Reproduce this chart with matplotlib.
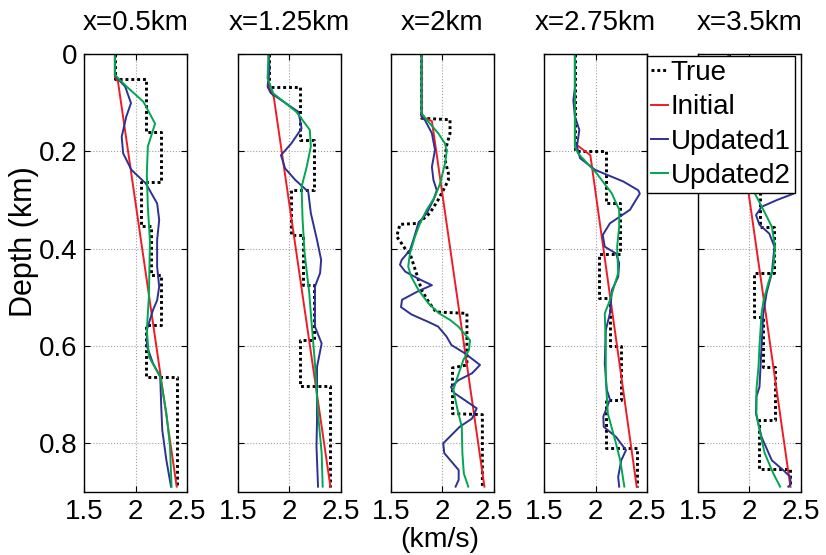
import numpy as np
import matplotlib
matplotlib.use('Agg')
import matplotlib.pyplot as plt

plt.rcParams['font.family'] = ['Liberation Sans', 'DejaVu Sans']

titles = ['x=0.5km', 'x=1.25km', 'x=2km', 'x=2.75km', 'x=3.5km']

# true model, given as (depth km, velocity km/s) vertices
true_z = [
    [0, 0.052, 0.052, 0.16, 0.16, 0.262, 0.262, 0.354, 0.354, 0.455, 0.455, 0.557, 0.557, 0.663, 0.663, 0.889],
    [0, 0.067, 0.067, 0.177, 0.177, 0.28, 0.28, 0.372, 0.372, 0.475, 0.475, 0.588, 0.588, 0.682, 0.682, 0.889],
    [0, 0.132, 0.135, 0.163, 0.19, 0.218, 0.245, 0.259, 0.273, 0.30, 0.327, 0.348, 0.350, 0.375, 0.389, 0.40,
     0.41, 0.451, 0.485, 0.51, 0.53, 0.533, 0.639, 0.645, 0.739, 0.741, 0.889],
    [0, 0.2, 0.2, 0.307, 0.307, 0.41, 0.41, 0.502, 0.502, 0.60, 0.60, 0.711, 0.711, 0.81, 0.81, 0.889],
    [0, 0.2, 0.2, 0.355, 0.355, 0.45, 0.45, 0.54, 0.54, 0.643, 0.643, 0.752, 0.752, 0.852, 0.852, 0.889],
]
true_v = [
    [1.8, 1.8, 2.10, 2.10, 2.25, 2.25, 2.05, 2.05, 2.15, 2.15, 2.25, 2.25, 2.10, 2.10, 2.40, 2.40],
    [1.8, 1.8, 2.10, 2.10, 2.24, 2.24, 2.02, 2.02, 2.13, 2.13, 2.24, 2.24, 2.10, 2.10, 2.40, 2.40],
    [1.8, 1.8, 2.076, 2.076, 2.04, 2.027, 2.06, 2.06, 2.027, 1.96, 1.88, 1.768, 1.59, 1.558, 1.605, 1.64,
     1.687, 1.75, 1.80, 1.87, 1.94, 2.24, 2.24, 2.10, 2.10, 2.39, 2.39],
    [1.8, 1.8, 2.10, 2.10, 2.24, 2.24, 2.03, 2.03, 2.14, 2.14, 2.245, 2.245, 2.10, 2.10, 2.40, 2.40],
    [1.8, 1.8, 2.10, 2.10, 2.245, 2.245, 2.047, 2.047, 2.137, 2.137, 2.25, 2.25, 2.095, 2.095, 2.40, 2.40],
]

# initial model
init_z = [
    [0, 0.047, 0.057, 0.889],
    [0, 0.067, 0.088, 0.889],
    [0, 0.129, 0.138, 0.889],
    [0, 0.184, 0.208, 0.889],
    [0, 0.2, 0.22, 0.889],
]
init_v = [
    [1.8, 1.8, 1.83, 2.40],
    [1.8, 1.8, 1.85, 2.40],
    [1.8, 1.8, 1.90, 2.41],
    [1.8, 1.8, 1.95, 2.40],
    [1.8, 1.8, 1.95, 2.40],
]

# updated model 1
up1_z = [
    [0, 0.045, 0.067, 0.101, 0.129, 0.17, 0.204, 0.238, 0.266, 0.307, 0.341, 0.382, 0.437, 0.478, 0.506,
     0.526, 0.567, 0.60, 0.636, 0.663, 0.725, 0.773, 0.835, 0.889],
    [0, 0.03, 0.067, 0.08, 0.119, 0.153, 0.184, 0.208, 0.235, 0.259, 0.283, 0.327, 0.382, 0.423, 0.45,
     0.478, 0.506, 0.56, 0.595, 0.643, 0.697, 0.752, 0.807, 0.889],
    [0, 0.129, 0.136, 0.163, 0.197, 0.232, 0.259, 0.28, 0.30, 0.327, 0.348, 0.382, 0.403, 0.423, 0.433,
     0.447, 0.462, 0.475, 0.487, 0.505, 0.52, 0.535, 0.55, 0.56, 0.58, 0.598, 0.615, 0.639, 0.656, 0.67,
     0.684, 0.697, 0.728, 0.749, 0.766, 0.80, 0.82, 0.855, 0.875, 0.889],
    [0, 0.07, 0.095, 0.128, 0.156, 0.19, 0.214, 0.238, 0.262, 0.28, 0.287, 0.32, 0.348, 0.372, 0.396,
     0.41, 0.43, 0.458, 0.485, 0.533, 0.567, 0.636, 0.69, 0.71, 0.745, 0.766, 0.787, 0.814, 0.835, 0.869,
     0.889],
    [0, 0.2, 0.22, 0.25, 0.275, 0.287, 0.30, 0.314, 0.331, 0.351, 0.369, 0.396, 0.45, 0.49, 0.533, 0.60,
     0.684, 0.704, 0.739, 0.787, 0.835, 0.855, 0.869, 0.885, 0.889],
]
up1_v = [
    [1.8, 1.8, 1.90, 1.956, 1.91, 1.866, 1.88, 1.96, 2.10, 2.21, 2.23, 2.21, 2.21, 2.23, 2.21,
     2.17, 2.11, 2.11, 2.17, 2.24, 2.25, 2.26, 2.30, 2.345],
    [1.8, 1.81, 1.79, 1.82, 2.09, 2.12, 2.02, 1.92, 1.96, 2.06, 2.185, 2.21, 2.27, 2.31, 2.30,
     2.25, 2.25, 2.25, 2.315, 2.27, 2.27, 2.27, 2.265, 2.28],
    [1.8, 1.8, 1.833, 1.90, 1.93, 1.90, 1.915, 1.947, 1.915, 1.85, 1.768, 1.72, 1.687, 1.607, 1.59,
     1.64, 1.77, 1.90, 1.77, 1.61, 1.60, 1.70, 1.86, 1.96, 2.04, 2.09, 2.22, 2.367, 2.29, 2.16,
     2.085, 2.12, 2.335, 2.29, 2.17, 2.01, 2.02, 2.16, 2.16, 2.13],
    [1.8, 1.8, 1.785, 1.80, 1.843, 1.82, 1.85, 1.995, 2.27, 2.415, 2.43, 2.335, 2.14, 2.07, 2.09,
     2.20, 2.23, 2.22, 2.16, 2.14, 2.10, 2.09, 2.11, 2.14, 2.076, 2.08, 2.20, 2.296, 2.25, 2.22,
     2.23],
    [1.8, 1.8, 1.85, 2.1, 2.38, 2.43, 2.27, 2.12, 2.066, 2.10, 2.195, 2.245, 2.22, 2.17, 2.137, 2.12,
     2.10, 2.07, 2.066, 2.12, 2.22, 2.33, 2.40, 2.40, 2.38],
]

# updated model 2
up2_z = [
    [0, 0.043, 0.067, 0.098, 0.143, 0.19, 0.246, 0.315, 0.384, 0.499, 0.567, 0.622, 0.663, 0.738, 0.807, 0.889],
    [0, 0.05, 0.081, 0.119, 0.156, 0.19, 0.232, 0.273, 0.341, 0.41, 0.492, 0.533, 0.636, 0.739, 0.82, 0.889],
    [0, 0.122, 0.139, 0.163, 0.184, 0.2, 0.225, 0.266, 0.293, 0.32, 0.348, 0.375, 0.41, 0.437, 0.458,
     0.485, 0.512, 0.533, 0.547, 0.56, 0.588, 0.608, 0.629, 0.663, 0.69, 0.732, 0.766, 0.82, 0.862, 0.889],
    [0, 0.19, 0.204, 0.245, 0.286, 0.32, 0.355, 0.396, 0.45, 0.506, 0.533, 0.60, 0.67, 0.739, 0.793, 0.835, 0.889],
    [0, 0.2, 0.24, 0.287, 0.32, 0.355, 0.396, 0.437, 0.471, 0.506, 0.533, 0.60, 0.643, 0.69, 0.739, 0.773,
     0.82, 0.862, 0.889],
]
up2_v = [
    [1.8, 1.8, 1.914, 2.076, 2.19, 2.12, 2.11, 2.12, 2.14, 2.13, 2.11, 2.13, 2.24, 2.30, 2.335, 2.35],
    [1.8, 1.79, 1.846, 2.07, 2.20, 2.21, 2.17, 2.12, 2.13, 2.15, 2.195, 2.21, 2.25, 2.28, 2.315, 2.325],
    [1.8, 1.8, 1.865, 1.962, 2.027, 2.044, 2.027, 1.98, 1.93, 1.85, 1.785, 1.736, 1.687, 1.67, 1.70,
     1.77, 1.865, 1.97, 2.08, 2.156, 2.27, 2.26, 2.205, 2.15, 2.108, 2.15, 2.19, 2.196, 2.21, 2.253],
    [1.8, 1.8, 1.83, 2.01, 2.157, 2.23, 2.23, 2.21, 2.22, 2.14, 2.09, 2.10, 2.10, 2.12, 2.19, 2.24, 2.28],
    [1.8, 1.8, 1.92, 2.056, 2.137, 2.22, 2.25, 2.235, 2.185, 2.14, 2.12, 2.10, 2.09, 2.07, 2.07, 2.10,
     2.15, 2.234, 2.30],
]

xticks = [1.5, 2, 2.5]
xticklabels = ['1.5', '2', '2.5']
yticks = [0, 0.2, 0.4, 0.6, 0.8]
yticklabels = ['0', '0.2', '0.4', '0.6', '0.8']

red = '#ee1c25'
blue = '#2e3192'
green = '#00a651'

W, H = 826, 555
fig = plt.figure(figsize=(W / 100, H / 100), dpi=100)
lefts = [84, 237.7, 390.7, 544, 697.7]

for i in range(5):
    ax = fig.add_axes([lefts[i] / W, (H - 492) / H, 103 / W, 438 / H])
    l0, = ax.plot(true_v[i], true_z[i], color='k', lw=2.1, ls=(0, (1, 1)))
    l1, = ax.plot(init_v[i], init_z[i], color=red, lw=1.4)
    l2, = ax.plot(up1_v[i], up1_z[i], color=blue, lw=1.4)
    l3, = ax.plot(up2_v[i], up2_z[i], color=green, lw=1.4)
    ax.set_xlim(1.5, 2.5)
    ax.set_ylim(0.9, 0)
    ax.set_xticks(xticks)
    ax.set_xticklabels(xticklabels)
    ax.set_yticks(yticks)
    if i == 0:
        ax.set_yticklabels(yticklabels)
    else:
        ax.set_yticklabels([])
    ax.tick_params(direction='in', top=True, right=True, length=4, width=0.8,
                   labelsize=20, pad=5)
    ax.grid(True, ls=':', color='#a0a0a0', lw=0.8)
    for s in ax.spines.values():
        s.set_linewidth(1.0)
    ax.set_title(titles[i], fontsize=20, pad=17)

leg = fig.legend([l0, l1, l2, l3], ['True', 'Initial', 'Updated1', 'Updated2'],
                 loc='upper left', bbox_to_anchor=(647 / W, 1 - 56 / H),
                 bbox_transform=fig.transFigure, fontsize=20, fancybox=False,
                 framealpha=1, edgecolor='k', borderpad=0.15, labelspacing=0.3,
                 handlelength=0.6, handletextpad=0.1, borderaxespad=0)
leg.get_frame().set_linewidth(1.0)

fig.text(24 / W, 1 - 242 / H, 'Depth (km)', rotation=90, ha='center', va='center', fontsize=22)
fig.text(440 / W, 1 - 540 / H, '(km/s)', ha='center', va='center', fontsize=20.5)

fig.savefig('out.png', dpi=100)
